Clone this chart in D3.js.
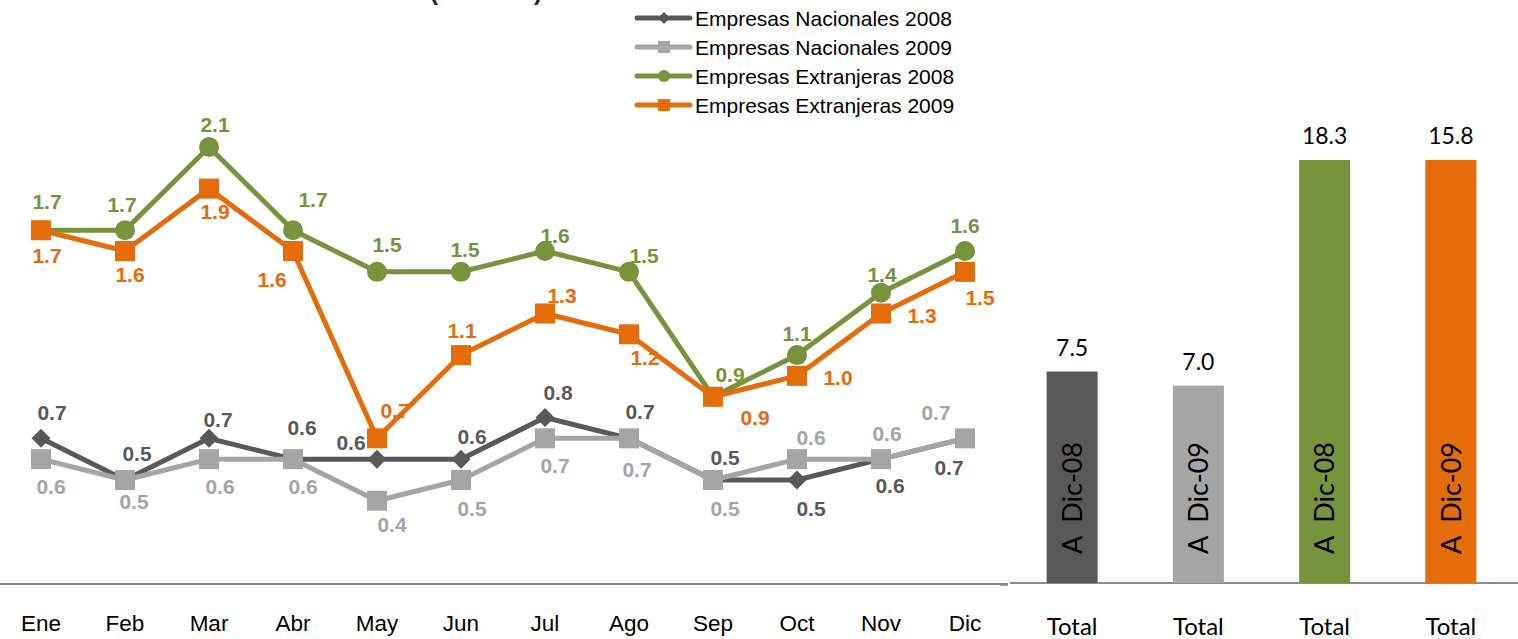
<!DOCTYPE html>
<html>
<head>
<meta charset="utf-8">
<script src="https://cdn.jsdelivr.net/npm/d3@7"></script>
<style>
  body { margin: 0; background: #fff; overflow: hidden; }
</style>
</head>
<body>
<script>
const months = ["Ene", "Feb", "Mar", "Abr", "May", "Jun", "Jul", "Ago", "Sep", "Oct", "Nov", "Dic"];
const nac2008 = [0.7, 0.5, 0.7, 0.6, 0.6, 0.6, 0.8, 0.7, 0.5, 0.5, 0.6, 0.7];
const nac2009 = [0.6, 0.5, 0.6, 0.6, 0.4, 0.5, 0.7, 0.7, 0.5, 0.6, 0.6, 0.7];
const ext2008 = [1.7, 1.7, 2.1, 1.7, 1.5, 1.5, 1.6, 1.5, 0.9, 1.1, 1.4, 1.6];
const ext2009 = [1.7, 1.6, 1.9, 1.6, 0.7, 1.1, 1.3, 1.2, 0.9, 1.0, 1.3, 1.5];
const seriesNames = ["Empresas Nacionales 2008", "Empresas Nacionales 2009", "Empresas Extranjeras 2008", "Empresas Extranjeras 2009"];

const totalLabels = ["Total", "Total", "Total", "Total"];
const totalValues = [7.5, 7.0, 18.3, 15.8];
const totalTags = ["A  Dic-08", "A  Dic-09", "A  Dic-08", "A  Dic-09"];

// where each data label sits relative to its point (label placement, not data)
const offNac08 = [[11,-26],[12,-27],[9,-19],[9,-32],[-26,-17],[11,-23],[13,-25],[11,-27],[12,-23],[14,28],[9,26],[-16,29]];
const offNac09 = [[10,27],[9,21],[11,27],[10,27],[15,24],[11,28],[10,27],[8,31],[12,28],[14,-22],[6,-26],[-29,-26]];
const offExt08 = [[6,-29],[-3,-26],[6,-23],[20,-31],[10,-27],[4,-22],[10,-16],[15,-16],[17,-22],[0,-22],[1,-18],[0,-26]];
const offExt09 = [[6,25],[5,23],[6,23],[-21,28],[18,-28],[1,-25],[17,-18],[16,23],[42,21],[41,2],[41,2],[15,26]];

const colors = ["#595959", "#a5a5a5", "#77933c", "#e46c0a"];
const shapes = ["diamond", "square", "circle", "square"];

const width = 1518, height = 639;
const svg = d3.select("body").append("svg")
  .attr("width", width)
  .attr("height", height);

// title, mostly above the top edge as in the original
svg.append("text")
  .attr("x", 430).attr("y", 0)
  .attr("font-family", "Liberation Sans, Arial, sans-serif")
  .attr("font-weight", "bold")
  .attr("font-size", 24)
  .attr("fill", "#222")
  .text("(Millones)");

// ---- line chart ----
const x = d3.scalePoint().domain(months).range([41, 965]);
const y = d3.scaleLinear().domain([0, 2.1]).range([584, 147]);

const series = [
  { name: seriesNames[0], values: nac2008, off: offNac08 },
  { name: seriesNames[1], values: nac2009, off: offNac09 },
  { name: seriesNames[2], values: ext2008, off: offExt08 },
  { name: seriesNames[3], values: ext2009, off: offExt09 },
];

svg.append("line")
  .attr("x1", 0).attr("x2", 1008)
  .attr("y1", y(0)).attr("y2", y(0))
  .attr("stroke", "#8c8c8c").attr("stroke-width", 2);

svg.append("g")
  .selectAll("text")
  .data(months)
  .join("text")
  .attr("x", (d) => x(d))
  .attr("y", 631)
  .attr("text-anchor", "middle")
  .attr("font-family", "Liberation Sans, Arial, sans-serif")
  .attr("font-size", 22.5)
  .attr("fill", "#000")
  .text((d) => d);

// labels go below the lines, as in the original
const labelLayer = svg.append("g");
const lineLayer = svg.append("g");

function marker(sel, shape, color) {
  if (shape === "circle") {
    sel.append("circle").attr("r", 10).attr("fill", color);
  } else if (shape === "square") {
    sel.append("rect").attr("x", -10).attr("y", -10).attr("width", 20).attr("height", 20).attr("fill", color);
  } else {
    sel.append("path").attr("d", "M0,-9.5L9.5,0L0,9.5L-9.5,0Z").attr("fill", color);
  }
}

series.forEach((s, i) => {
  const pts = s.values.map((v, j) => ({ m: months[j], v, off: s.off[j] }));

  labelLayer.append("g")
    .selectAll("text")
    .data(pts)
    .join("text")
    .attr("x", (d) => x(d.m) + d.off[0])
    .attr("y", (d) => y(d.v) + d.off[1])
    .attr("dy", "0.36em")
    .attr("text-anchor", "middle")
    .attr("font-family", "Liberation Sans, Arial, sans-serif")
    .attr("font-weight", "bold")
    .attr("font-size", 21)
    .attr("fill", colors[i])
    .text((d) => d.v.toFixed(1));

  const g = lineLayer.append("g");
  g.append("path")
    .datum(pts)
    .attr("fill", "none")
    .attr("stroke", colors[i])
    .attr("stroke-width", 5)
    .attr("stroke-linejoin", "round")
    .attr("d", d3.line().x((d) => x(d.m)).y((d) => y(d.v)));

  g.selectAll("g")
    .data(pts)
    .join("g")
    .attr("transform", (d) => `translate(${x(d.m)},${y(d.v)})`)
    .each(function () {
      marker(d3.select(this), shapes[i], colors[i]);
    });
});

// legend
const legend = svg.append("g").attr("transform", "translate(637,18)");
seriesNames.forEach((name, i) => {
  const row = legend.append("g").attr("transform", `translate(0,${i * 29})`);
  row.append("line")
    .attr("x1", 0).attr("x2", 53)
    .attr("stroke", colors[i]).attr("stroke-width", 5)
    .attr("stroke-linecap", "round");
  const m = row.append("g").attr("transform", "translate(27,0)");
  if (shapes[i] === "circle") m.append("circle").attr("r", 6).attr("fill", colors[i]);
  else if (shapes[i] === "square") m.append("rect").attr("x", -6).attr("y", -6).attr("width", 12).attr("height", 12).attr("fill", colors[i]);
  else m.append("path").attr("d", "M0,-6L6,0L0,6L-6,0Z").attr("fill", colors[i]);
  row.append("text")
    .attr("x", 58).attr("y", 0).attr("dy", "0.36em")
    .attr("font-family", "Liberation Sans, Arial, sans-serif")
    .attr("font-size", 21)
    .attr("fill", "#000")
    .text(name);
});

// ---- totals bar chart ----
const xb = d3.scaleBand()
  .domain(d3.range(totalValues.length))
  .range([1009, 1514])
  .paddingInner(0.596)
  .paddingOuter(0.298);
const yb = d3.scaleLinear().domain([0, 15]).range([583, 160]).clamp(true);

svg.append("line")
  .attr("x1", 1010).attr("x2", width)
  .attr("y1", 583).attr("y2", 583)
  .attr("stroke", "#8c8c8c").attr("stroke-width", 2);
svg.append("line")
  .attr("x1", 1000).attr("x2", 1008)
  .attr("y1", 585).attr("y2", 585)
  .attr("stroke", "#8c8c8c").attr("stroke-width", 1.5);

const bar = svg.append("g")
  .selectAll("g")
  .data(totalValues)
  .join("g");

bar.append("rect")
  .attr("x", (d, i) => xb(i))
  .attr("y", (d) => yb(d))
  .attr("width", xb.bandwidth())
  .attr("height", (d) => yb(0) - yb(d))
  .attr("fill", (d, i) => colors[i]);

bar.append("text")
  .attr("x", (d, i) => xb(i) + xb.bandwidth() / 2)
  .attr("y", (d) => yb(d) - 16)
  .attr("text-anchor", "middle")
  .attr("font-family", "Lato, Open Sans, sans-serif")
  .attr("font-size", 23)
  .attr("fill", "#000")
  .text((d) => d.toFixed(1));

bar.append("text")
  .attr("transform", (d, i) => `translate(${xb(i) + xb.bandwidth() / 2},498) rotate(-90)`)
  .attr("dy", "0.36em")
  .attr("text-anchor", "middle")
  .attr("font-family", "Lato, Open Sans, sans-serif")
  .attr("font-size", 27)
  .attr("fill", "#000")
  .style("white-space", "pre")
  .text((d, i) => totalTags[i]);

bar.append("text")
  .attr("x", (d, i) => xb(i) + xb.bandwidth() / 2)
  .attr("y", 635)
  .attr("text-anchor", "middle")
  .attr("font-family", "Lato, Open Sans, sans-serif")
  .attr("font-size", 24)
  .attr("fill", "#000")
  .text((d, i) => totalLabels[i]);
</script>
</body>
</html>
